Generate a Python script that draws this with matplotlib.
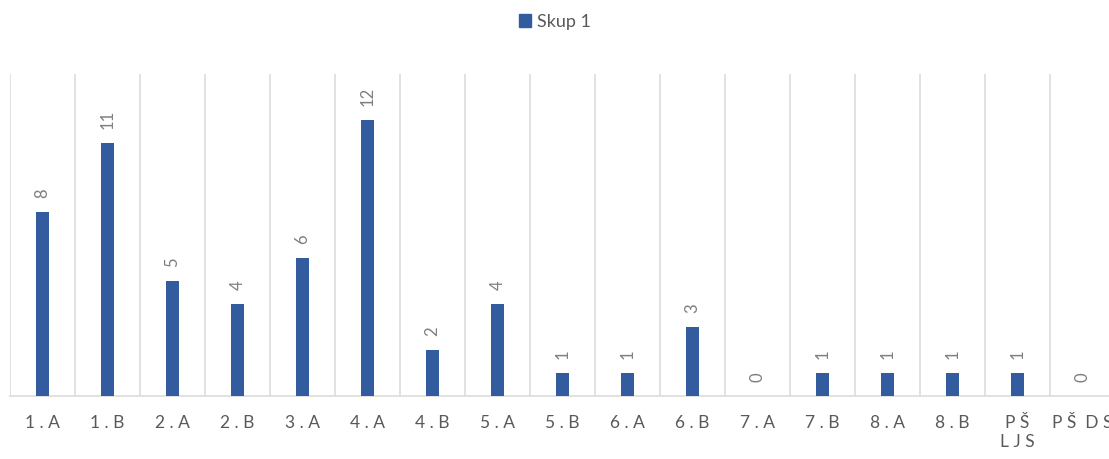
import numpy as np
import matplotlib.pyplot as plt
from matplotlib.patches import Patch

plt.rcParams['font.family'] = ['Lato', 'DejaVu Sans']

categories = ['1.A', '1.B', '2.A', '2.B', '3.A', '4.A', '4.B', '5.A', '5.B',
              '6.A', '6.B', '7.A', '7.B', '8.A', '8.B', 'PŠ LJS', 'PŠ DS']
tick_labels = ['1 . A', '1 . B', '2 . A', '2 . B', '3 . A', '4 . A', '4 . B',
               '5 . A', '5 . B', '6 . A', '6 . B', '7 . A', '7 . B', '8 . A',
               '8 . B', 'P Š\nL J S', 'P Š  D S']
values = [8, 11, 5, 4, 6, 12, 2, 4, 1, 1, 3, 0, 1, 1, 1, 1, 0]

bar_color = '#335C9F'
grid_color = '#DEDEDE'
text_color = '#595959'
label_color = '#7F7F7F'

fig = plt.figure(figsize=(11.09, 4.59), dpi=100)
# axes runs past the right edge like the original
ax = fig.add_axes([10 / 1109, 1 - 396 / 459, 1105 / 1109, 322 / 459])

x = np.arange(len(categories))
ax.bar(x, values, width=0.19, color=bar_color, zorder=3)

for xi, v in zip(x, values):
    ax.annotate(str(v), (xi, v), xytext=(0, 10), textcoords='offset points',
                rotation=90, ha='center', va='bottom', fontsize=12,
                color=label_color)

ax.set_xlim(-0.5, len(categories) - 0.5)
ax.set_ylim(0, 14)
ax.set_yticks([])
ax.set_xticks(x)
ax.set_xticklabels(tick_labels, fontsize=12.5, color=text_color,
                   linespacing=1.2)
ax.tick_params(axis='x', length=0, pad=14)

# vertical gridlines at category boundaries
ax.set_xticks(np.arange(-0.5, len(categories), 1), minor=True)
ax.tick_params(axis='x', which='minor', length=0)
ax.grid(axis='x', which='minor', color=grid_color, linewidth=1.3, zorder=0)

for side in ['top', 'right', 'left']:
    ax.spines[side].set_visible(False)
ax.spines['bottom'].set_color(grid_color)
ax.spines['bottom'].set_linewidth(1.3)

handle = Patch(color=bar_color, label='Skup 1')
fig.legend(handles=[handle], loc='center', bbox_to_anchor=(0.5, 1 - 22 / 459),
           frameon=False, fontsize=13, labelcolor=text_color,
           handlelength=0.7, handleheight=0.7, handletextpad=0.3)

fig.savefig('out.png', dpi=100)
